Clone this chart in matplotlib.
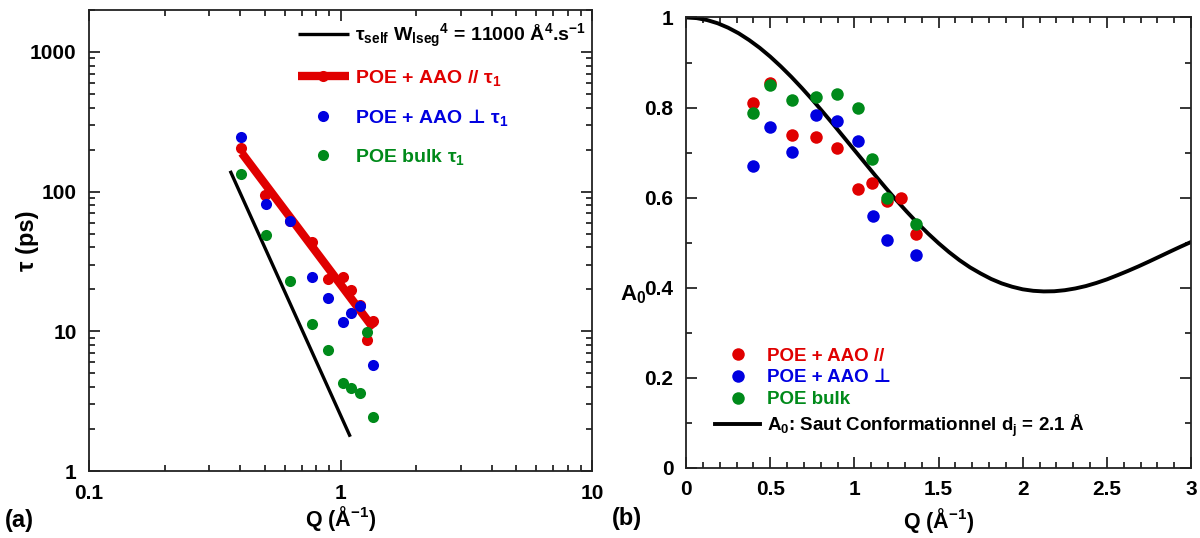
import matplotlib
matplotlib.use("Agg")
import matplotlib.pyplot as plt
from matplotlib.ticker import FixedLocator, FixedFormatter, LogLocator, NullFormatter, MultipleLocator
from matplotlib.legend_handler import HandlerTuple

plt.rcParams['font.family'] = ['Liberation Sans', 'DejaVu Sans']
plt.rcParams['font.weight'] = 'bold'
plt.rcParams['mathtext.fontset'] = 'custom'
plt.rcParams['mathtext.rm'] = 'Liberation Sans:bold'
plt.rcParams['mathtext.bf'] = 'Liberation Sans:bold'
plt.rcParams['mathtext.it'] = 'Liberation Sans:bold'
plt.rcParams['mathtext.sf'] = 'DejaVu Sans:bold'
plt.rcParams['mathtext.default'] = 'bf'

# ---------------- data: panel (a) ----------------
q_par = [0.403, 0.50, 0.63, 0.77, 0.895, 1.02, 1.10, 1.19, 1.27, 1.35]
tau_par = [207, 94, 62, 43.5, 23.8, 24.5, 19.8, 15.5, 8.7, 11.9]

q_perp = [0.403, 0.505, 0.631, 0.771, 0.895, 1.02, 1.10, 1.19, 1.35]
tau_perp = [248, 81, 61.5, 24.4, 17.3, 11.7, 13.5, 15.2, 5.7]

q_bulk = [0.403, 0.505, 0.631, 0.771, 0.895, 1.02, 1.10, 1.19, 1.27, 1.35]
tau_bulk = [134, 49, 23.1, 11.3, 7.3, 4.3, 3.9, 3.6, 9.95, 2.42]

fit_q = [0.405, 1.353]
fit_tau = [189, 10.5]

model_q = [0.364, 1.093]
model_tau = [141, 1.76]

# ---------------- data: panel (b) ----------------
a0_q_par = [0.396, 0.499, 0.632, 0.770, 0.897, 1.024, 1.107, 1.196, 1.277, 1.367]
a0_par = [0.809, 0.855, 0.739, 0.734, 0.711, 0.619, 0.632, 0.592, 0.598, 0.518]

a0_q_perp = [0.396, 0.501, 0.632, 0.770, 0.897, 1.024, 1.109, 1.193, 1.367]
a0_perp = [0.670, 0.757, 0.702, 0.783, 0.771, 0.725, 0.559, 0.506, 0.472]

a0_q_bulk = [0.396, 0.501, 0.632, 0.770, 0.899, 1.024, 1.107, 1.196, 1.369]
a0_bulk = [0.787, 0.851, 0.816, 0.823, 0.829, 0.800, 0.685, 0.599, 0.541]

jump_q = [0.0, 0.0625, 0.125, 0.1875, 0.25, 0.3125, 0.375, 0.4375, 0.5, 0.5625,
          0.625, 0.6875, 0.75, 0.8125, 0.875, 0.9375, 1.0, 1.0625, 1.125, 1.1875,
          1.25, 1.3125, 1.375, 1.4375, 1.5, 1.5625, 1.625, 1.6875, 1.75, 1.8125,
          1.875, 1.9375, 2.0, 2.0625, 2.125, 2.1875, 2.25, 2.3125, 2.375, 2.4375,
          2.5, 2.5625, 2.625, 2.6875, 2.75, 2.8125, 2.875, 2.9375, 3.0]
jump_a0 = [1.0, 0.9986, 0.9943, 0.9872, 0.9773, 0.9649, 0.9498, 0.9326, 0.9131, 0.8915,
           0.8683, 0.8435, 0.8175, 0.7903, 0.7625, 0.7341, 0.7055, 0.6771, 0.6487, 0.6209,
           0.5940, 0.5682, 0.5435, 0.5203, 0.4987, 0.4788, 0.4608, 0.4449, 0.4314, 0.4192,
           0.4094, 0.4019, 0.3962, 0.3929, 0.3915, 0.3919, 0.3942, 0.3981, 0.4034, 0.4103,
           0.4182, 0.4274, 0.4370, 0.4471, 0.4578, 0.4688, 0.4799, 0.4908, 0.5013]

RED = '#e00000'
BLUE = '#0000e0'
GREEN = '#008a1a'

fig = plt.figure(figsize=(12, 5.38), dpi=100)
ax1 = fig.add_axes([0.0742, 0.1245, 0.4192, 0.857])
ax2 = fig.add_axes([0.5717, 0.1307, 0.4208, 0.8368])

ms = 8
# ---- panel a ----
model_line, = ax1.plot(model_q, model_tau, color='black', lw=2.4, solid_capstyle='butt')
fit_line, = ax1.plot(fit_q, fit_tau, color=RED, lw=6, solid_capstyle='butt')
p_par, = ax1.plot(q_par, tau_par, 'o', color=RED, ms=ms, mec='none')
p_perp, = ax1.plot(q_perp, tau_perp, 'o', color=BLUE, ms=ms, mec='none')
p_bulk, = ax1.plot(q_bulk, tau_bulk, 'o', color=GREEN, ms=ms, mec='none')

ax1.set_xscale('log')
ax1.set_yscale('log')
ax1.set_xlim(0.1, 10)
ax1.set_ylim(1, 2000)
ax1.xaxis.set_major_locator(FixedLocator([0.1, 1, 10]))
ax1.xaxis.set_major_formatter(FixedFormatter(['0.1', '1', '10']))
ax1.yaxis.set_major_locator(FixedLocator([1, 10, 100, 1000]))
ax1.yaxis.set_major_formatter(FixedFormatter(['1', '10', '100', '1000']))
for a in (ax1.xaxis, ax1.yaxis):
    a.set_minor_locator(LogLocator(base=10, subs=range(2, 10), numticks=20))
    a.set_minor_formatter(NullFormatter())
ax1.set_xlabel('Q (Å$^{-1}$)', fontsize=15.5, fontweight='bold')
ax1.xaxis.set_label_coords(0.5, -0.072)
ax1.set_ylabel('τ (ps)', fontsize=17, fontweight='bold')
ax1.yaxis.set_label_coords(-0.100, 0.5)

leg1 = ax1.legend(
    handles=[model_line, (fit_line, p_par), p_perp, p_bulk],
    labels=['τ$_{self}$ W$_{lseg}$$^{4}$ = 11000 Å$^{4}$.s$^{-1}$',
            'POE + AAO // τ$_{1}$', r'POE + AAO $\mathsf{⊥}$ τ$_{1}$', 'POE bulk τ$_{1}$'],
    handler_map={tuple: HandlerTuple(ndivide=1)},
    loc='upper left', bbox_to_anchor=(0.40, 0.992), frameon=False,
    prop={'size': 14, 'weight': 'bold'}, handlelength=2.6, handletextpad=0.35,
    labelspacing=0.96, borderaxespad=0)
for t, c in zip(leg1.get_texts(), ['black', RED, BLUE, GREEN]):
    t.set_color(c)

# ---- panel b ----
jump_line, = ax2.plot(jump_q, jump_a0, color='black', lw=2.8, solid_joinstyle='round')
b_par, = ax2.plot(a0_q_par, a0_par, 'o', color=RED, ms=ms + 1, mec='none')
b_perp, = ax2.plot(a0_q_perp, a0_perp, 'o', color=BLUE, ms=ms + 1, mec='none')
b_bulk, = ax2.plot(a0_q_bulk, a0_bulk, 'o', color=GREEN, ms=ms + 1, mec='none')
ax2.set_xlim(0, 3)
ax2.set_ylim(0, 1)
ax2.xaxis.set_major_locator(FixedLocator([0, 0.5, 1, 1.5, 2, 2.5, 3]))
ax2.xaxis.set_major_formatter(FixedFormatter(['0', '0.5', '1', '1.5', '2', '2.5', '3']))
ax2.yaxis.set_major_locator(FixedLocator([0, 0.2, 0.4, 0.6, 0.8, 1]))
ax2.yaxis.set_major_formatter(FixedFormatter(['0', '0.2', '0.4', '0.6', '0.8', '1']))
ax2.xaxis.set_minor_locator(MultipleLocator(0.1))
ax2.yaxis.set_minor_locator(MultipleLocator(0.1))
ax2.set_xlabel('Q (Å$^{-1}$)', fontsize=15.5, fontweight='bold')
ax2.xaxis.set_label_coords(0.5, -0.085)
ax2.set_ylabel('A$_{0}$', fontsize=16, fontweight='bold', rotation=0,
               ha='right', va='center')
ax2.yaxis.set_label_coords(-0.079, 0.385)

leg2 = ax2.legend(
    handles=[b_par, b_perp, b_bulk, jump_line],
    labels=['POE + AAO //', 'POE + AAO ⊥', 'POE bulk',
            'A$_{0}$: Saut Conformationnel d$_{j}$ = 2.1 Å'],
    loc='lower left', bbox_to_anchor=(0.043, 0.047), frameon=False,
    prop={'size': 13.5, 'weight': 'bold'}, handlelength=2.4, handletextpad=0.35,
    labelspacing=0.25, borderaxespad=0)
for t, c in zip(leg2.get_texts(), [RED, BLUE, GREEN, 'black']):
    t.set_color(c)

for ax in (ax1, ax2):
    ax.tick_params(which='both', direction='in', top=True, right=True,
                   labelsize=15, width=1.1)
    ax.tick_params(which='major', length=8, pad=9)
    ax.tick_params(which='minor', length=4)
    for s in ax.spines.values():
        s.set_linewidth(1.3)
        s.set_color('#222222')
    for lab in ax.get_xticklabels() + ax.get_yticklabels():
        lab.set_fontweight('bold')

fig.text(0.004, 0.033, '(a)', fontsize=17, fontweight='bold', ha='left', va='center')
fig.text(0.51, 0.037, '(b)', fontsize=17, fontweight='bold', ha='left', va='center')

fig.savefig('out.png', dpi=100)
